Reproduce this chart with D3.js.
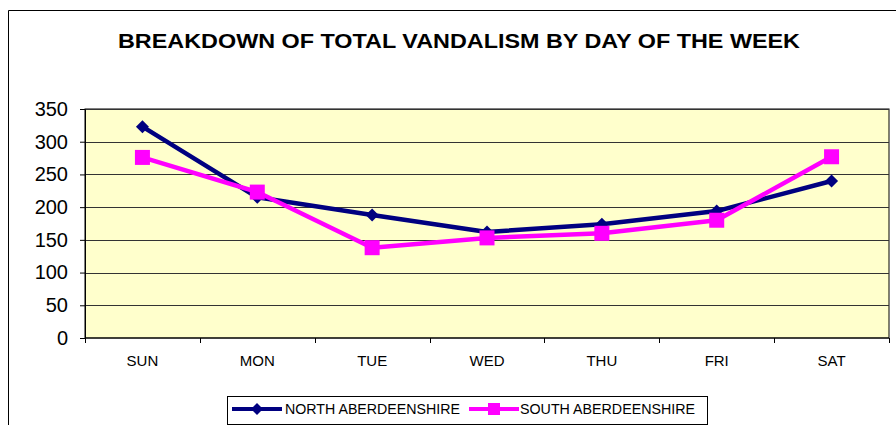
<!DOCTYPE html>
<html>
<head>
<meta charset="utf-8">
<script src="https://cdn.jsdelivr.net/npm/d3@7"></script>
<style>
	body { margin: 0; background: #fff; }
	svg { display: block; font-family: "Liberation Sans", Arial, sans-serif; }
</style>
</head>
<body>
<svg id="chart" width="896" height="425"></svg>
<script>
// chart data
var days = ["SUN", "MON", "TUE", "WED", "THU", "FRI", "SAT"];
var northValues = [323, 215, 188, 162, 174, 194, 240];
var southValues = [276, 223, 138, 153, 160, 180, 277];
var yTicks = [0, 50, 100, 150, 200, 250, 300, 350];
var seriesNames = ["NORTH ABERDEENSHIRE", "SOUTH ABERDEENSHIRE"];

var svg = d3.select("#chart");

var plot = { left: 85, right: 889, top: 109, bottom: 338 };

var x = d3.scaleBand().domain(days).range([plot.left, plot.right]).padding(0);
var y = d3.scaleLinear().domain([0, 350]).range([plot.bottom, plot.top]);

// outer frame
svg.append("path")
	.attr("d", "M8.5,425 L8.5,10.5 L896,10.5")
	.attr("fill", "none")
	.attr("stroke", "#000")
	.attr("stroke-width", 1);

// title
svg.append("text")
	.attr("x", 459)
	.attr("y", 48)
	.attr("text-anchor", "middle")
	.attr("font-size", 21)
	.attr("font-weight", "bold")
	.attr("textLength", 682)
	.attr("lengthAdjust", "spacingAndGlyphs")
	.text("BREAKDOWN OF TOTAL VANDALISM BY DAY OF THE WEEK");

// plot background
svg.append("rect")
	.attr("x", plot.left)
	.attr("y", plot.top)
	.attr("width", plot.right - plot.left)
	.attr("height", plot.bottom - plot.top)
	.attr("fill", "#FFFFCC")
	.attr("stroke", "#000")
	.attr("stroke-width", 1);

// gridlines
svg.append("g")
	.selectAll("line")
	.data(yTicks.slice(1))
	.enter().append("line")
	.attr("x1", plot.left)
	.attr("x2", plot.right)
	.attr("y1", function (d) { return Math.round(y(d)) + 0.5; })
	.attr("y2", function (d) { return Math.round(y(d)) + 0.5; })
	.attr("stroke", "#333")
	.attr("stroke-width", 1);

// y axis
var yAxis = svg.append("g")
	.attr("transform", "translate(" + plot.left + ",0)")
	.call(d3.axisLeft(y).tickValues(yTicks).tickSize(5).tickPadding(12));
yAxis.selectAll("text").attr("font-size", 20).attr("fill", "#000").attr("font-family", "Liberation Sans, Arial, sans-serif");
yAxis.selectAll("line").attr("stroke", "#000");
yAxis.select(".domain").attr("stroke", "#000");

// x axis - ticks at band boundaries
var xAxis = svg.append("g")
	.attr("transform", "translate(0," + plot.bottom + ")");
xAxis.append("line")
	.attr("x1", plot.left).attr("x2", plot.right)
	.attr("stroke", "#000");
var bounds = days.map(function (d) { return x(d); }).concat([plot.right]);
xAxis.selectAll(".tk")
	.data(bounds)
	.enter().append("line")
	.attr("class", "tk")
	.attr("x1", function (d) { return Math.round(d) + 0.5; })
	.attr("x2", function (d) { return Math.round(d) + 0.5; })
	.attr("y1", 0).attr("y2", 5)
	.attr("stroke", "#000");
xAxis.selectAll("text")
	.data(days)
	.enter().append("text")
	.attr("x", function (d) { return x(d) + x.bandwidth() / 2; })
	.attr("y", 28)
	.attr("text-anchor", "middle")
	.attr("font-size", 15)
	.text(function (d) { return d; });

var cx = function (d, i) { return x(days[i]) + x.bandwidth() / 2; };
var line = d3.line().x(cx).y(function (d) { return y(d); });

// north series
svg.append("path")
	.datum(northValues)
	.attr("d", line)
	.attr("fill", "none")
	.attr("stroke", "#000080")
	.attr("stroke-width", 4.5)
	.attr("stroke-linejoin", "round");
svg.append("g").selectAll("path")
	.data(northValues)
	.enter().append("path")
	.attr("transform", function (d, i) { return "translate(" + cx(d, i) + "," + y(d) + ")"; })
	.attr("d", "M0,-6.5 L6.5,0 L0,6.5 L-6.5,0Z")
	.attr("fill", "#000080");

// south series
svg.append("path")
	.datum(southValues)
	.attr("d", line)
	.attr("fill", "none")
	.attr("stroke", "#FF00FF")
	.attr("stroke-width", 4.5)
	.attr("stroke-linejoin", "round");
svg.append("g").selectAll("rect")
	.data(southValues)
	.enter().append("rect")
	.attr("x", function (d, i) { return cx(d, i) - 7.5; })
	.attr("y", function (d) { return y(d) - 7.5; })
	.attr("width", 15)
	.attr("height", 15)
	.attr("fill", "#FF00FF");

// legend
var legend = svg.append("g");
legend.append("rect")
	.attr("x", 227.5).attr("y", 396.5)
	.attr("width", 480).attr("height", 28)
	.attr("fill", "#fff")
	.attr("stroke", "#000");

var lg = [
	{ name: seriesNames[0], color: "#000080", x0: 232, tx: 285, shape: "diamond" },
	{ name: seriesNames[1], color: "#FF00FF", x0: 469, tx: 520, shape: "square" }
];
lg.forEach(function (s) {
	legend.append("line")
		.attr("x1", s.x0).attr("x2", s.x0 + 50)
		.attr("y1", 409).attr("y2", 409)
		.attr("stroke", s.color)
		.attr("stroke-width", 4);
	if (s.shape == "diamond") {
		legend.append("path")
			.attr("d", "M" + (s.x0 + 25) + ",403 l6,6 l-6,6 l-6,-6Z")
			.attr("fill", s.color);
	} else {
		legend.append("rect")
			.attr("x", s.x0 + 19).attr("y", 403)
			.attr("width", 12).attr("height", 12)
			.attr("fill", s.color);
	}
	legend.append("text")
		.attr("x", s.tx).attr("y", 414)
		.attr("font-size", 14)
		.attr("textLength", 175)
		.attr("lengthAdjust", "spacingAndGlyphs")
		.text(s.name);
});
</script>
</body>
</html>
